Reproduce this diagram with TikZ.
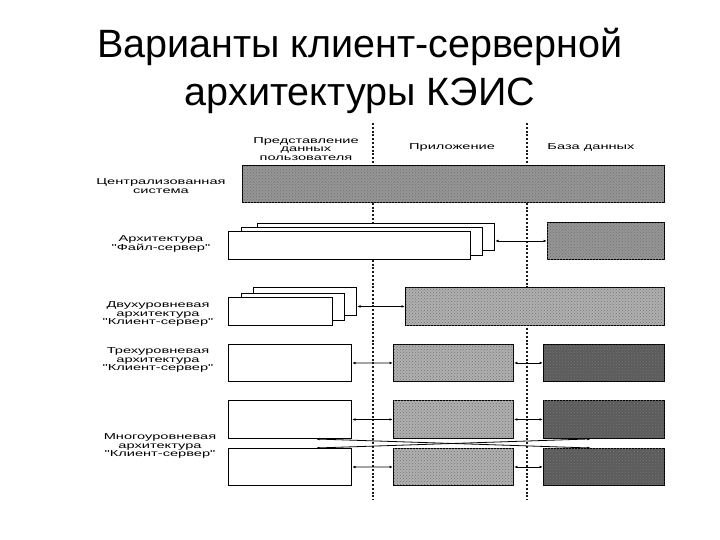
\documentclass[tikz,border=0pt]{standalone}
\usepackage{fontspec}
\setmainfont{Liberation Sans}
\newfontfamily\widefont{Liberation Sans}[FakeStretch=1.7]
\usepackage{tikz}
\usetikzlibrary{arrows.meta, patterns, calc}
\definecolor{CentGray}{HTML}{959595}
\definecolor{AppGray}{HTML}{B0B0B0}
\definecolor{DbDark}{HTML}{5C5C5C}
\definecolor{DivLine}{HTML}{1A1A1A}

\tikzset{
  clientbox/.style={draw=black, line width=1pt, fill=white, anchor=north west, inner sep=0pt},
  shadebox/.style={draw=black, line width=0.9pt, anchor=north west, inner sep=0pt,
    postaction={pattern=crosshatch dots, pattern color=black!55}},
  lbl/.style={align=center, inner sep=0pt, font=\widefont\fontsize{8.6}{8.7}\selectfont},
  link/.style={{Latex[length=3.5pt,width=2.6pt]}-{Latex[length=3.5pt,width=2.6pt]}, line width=0.8pt},
  divider/.style={DivLine, line width=1.4pt, dash pattern=on 2pt off 1.8pt}
}

\begin{document}
\begin{tikzpicture}[x=1pt, y=-1pt]
\useasboundingbox (0,0) rectangle (720,540);

% --- TITLE ---
\node (titleA) at (360,58) [anchor=base] {\fontsize{39.5}{46}\selectfont Варианты клиент-серверной};
\node (titleB) at (360,106) [anchor=base] {\fontsize{39.5}{46}\selectfont архитектуры КЭИС};

% --- COLUMN DIVIDERS AND HEADERS ---
\draw[divider] (373,123) -- (373,500);
\draw[divider] (527,123) -- (527,500);
\node[lbl] (hdUser) at (306,149) {Представление\\данных\\пользователя};
\node[lbl] (hdApp) at (452,147) {Приложение};
\node[lbl] (hdDb) at (591,147) {База данных};

% --- CENTRALIZED SYSTEM ---
\node[shadebox, fill=CentGray, minimum width=422pt, minimum height=37pt] (cent) at (242,165) {};
\node[lbl] (lblCent) at (161,186) {Централизованная\\система};

% --- FILE SERVER ---
\node[clientbox, minimum width=237pt, minimum height=27pt] (fsBack) at (257,223) {};
\node[clientbox, minimum width=241pt, minimum height=28pt] (fsMid) at (241,227) {};
\node[clientbox, minimum width=242pt, minimum height=28pt] (fsFront) at (228,231) {};
\node[shadebox, fill=CentGray, minimum width=117pt, minimum height=37pt] (fsDb) at (547,222) {};
\draw[link] (fsDb.west -| fsBack.east) -- (fsDb.west);
\node[lbl] (lblFs) at (161,244) {Архитектура\\"Файл-сервер"};

% --- TWO-TIER CLIENT-SERVER ---
\node[clientbox, minimum width=103pt, minimum height=28pt] (ttBack) at (253,287) {};
\node[clientbox, minimum width=103pt, minimum height=27pt] (ttMid) at (241,293) {};
\node[clientbox, minimum width=104pt, minimum height=28pt] (ttFront) at (228,297) {};
\node[shadebox, fill=AppGray, minimum width=259pt, minimum height=38pt] (ttSrv) at (405,287) {};
\draw[link] (ttSrv.west -| ttBack.east) -- (ttSrv.west);
\node[lbl] (lblTwo) at (158,314) {Двухуровневая\\архитектура\\"Клиент-сервер"};

% --- THREE-TIER CLIENT-SERVER ---
\node[clientbox, minimum width=123pt, minimum height=37pt] (thCli) at (228,344) {};
\node[shadebox, fill=AppGray, minimum width=120pt, minimum height=37pt] (thApp) at (393,344) {};
\node[shadebox, fill=DbDark, minimum width=121pt, minimum height=37pt] (thDb) at (543,344) {};
\draw[link] (thCli.east) -- (thApp.west);
\draw[link] (thApp.east) -- (thDb.west);
\node[lbl] (lblThree) at (158,360) {Трехуровневая\\архитектура\\"Клиент-сервер"};

% --- MULTI-TIER CLIENT-SERVER ---
\node[clientbox, minimum width=123pt, minimum height=38pt] (mtCliA) at (228,400) {};
\node[shadebox, fill=AppGray, minimum width=120pt, minimum height=38pt] (mtAppA) at (393,400) {};
\node[shadebox, fill=DbDark, minimum width=121pt, minimum height=38pt] (mtDbA) at (543,400) {};
\node[clientbox, minimum width=123pt, minimum height=37pt] (mtCliB) at (228,448) {};
\node[shadebox, fill=AppGray, minimum width=120pt, minimum height=37pt] (mtAppB) at (393,448) {};
\node[shadebox, fill=DbDark, minimum width=121pt, minimum height=37pt] (mtDbB) at (543,448) {};
\draw[link] (mtCliA.east) -- (mtAppA.west);
\draw[link] (mtAppA.east) -- (mtDbA.west);
\draw[link] (mtCliB.east) -- (mtAppB.west);
\draw[link] (mtAppB.east) -- (mtDbB.west);
% crossed links
\draw[link] ([xshift=-36pt]mtCliA.south east) -- ([xshift=-74pt]mtDbB.north east);
\draw[link] ([xshift=-36pt]mtCliB.north east) -- ([xshift=-74pt]mtDbA.south east);
\node[lbl] (lblMulti) at (160,446) {Многоуровневая\\архитектура\\"Клиент-сервер"};

\end{tikzpicture}
\end{document}
